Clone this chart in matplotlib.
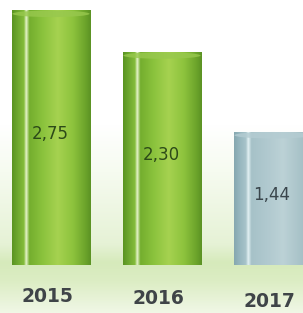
import numpy as np
import matplotlib
matplotlib.use("Agg")
import matplotlib.pyplot as plt
from matplotlib.colors import LinearSegmentedColormap
from matplotlib.patches import Ellipse

years = ["2015", "2016", "2017"]
values = [2.75, 2.30, 1.44]
value_labels = ["2,75", "2,30", "1,44"]

green_cmap = LinearSegmentedColormap.from_list("cyl_green", [
    (0.00, "#5a9422"), (0.08, "#70aa30"), (0.15, "#84bc3a"), (0.18, "#e6f4cc"),
    (0.22, "#74ae2e"), (0.40, "#8cc43e"), (0.58, "#a6d250"), (0.78, "#8cc23c"),
    (0.94, "#6aa22a"), (1.00, "#5b9224")])
grey_cmap = LinearSegmentedColormap.from_list("cyl_grey", [
    (0.00, "#86a8b0"), (0.08, "#98b8c0"), (0.15, "#a8c4ca"), (0.18, "#e2f1f3"),
    (0.22, "#a6c2c8"), (0.45, "#b2cad0"), (0.62, "#bcd2d6"), (0.85, "#a8c2c8"),
    (1.00, "#98b4bc")])
cmaps = [green_cmap, green_cmap, grey_cmap]
cap_colors = ["#98c84e", "#98c84e", "#b4ccd2"]
text_colors = ["#2c4a18", "#2c4a18", "#3a464c"]

fig = plt.figure(figsize=(3.03, 3.13), dpi=100)
ax = fig.add_axes([0, 0, 1, 1])
ax.set_xlim(-0.459, 2.27)
ax.set_ylim(-0.518, 2.859)
ax.axis("off")

# background: white fading into a pale green floor
bg = LinearSegmentedColormap.from_list("bg", [
    (0.00, "#f0f7e6"), (0.10, "#dcedc4"), (0.16, "#d6eabb"), (0.22, "#e6f2d6"),
    (0.45, "#f6fbf0"), (0.60, "#ffffff"), (1.00, "#ffffff")])
ax.imshow(np.linspace(0, 1, 256).reshape(-1, 1), cmap=bg, origin="lower",
          extent=[-0.459, 2.27, -0.518, 2.859], aspect="auto", zorder=0)

x = np.arange(len(years))
width = 0.71
bars = ax.bar(x, values, width, color="none", edgecolor="none", zorder=2)

grad = np.linspace(0, 1, 256).reshape(1, -1)
for i, b in enumerate(bars):
    x0, y0 = b.get_x(), b.get_y()
    x1, y1 = x0 + b.get_width(), y0 + b.get_height()
    im = ax.imshow(grad, cmap=cmaps[i], extent=[x0, x1, y0, y1],
                   aspect="auto", zorder=2)
    im.set_clip_path(b)
    cap = Ellipse((x[i], values[i] - 0.04), width * 0.98, 0.07,
                  facecolor=cap_colors[i], edgecolor="none", alpha=0.8, zorder=3)
    ax.add_patch(cap)
    ax.text(x[i] - 0.01, values[i] / 2 + 0.04, value_labels[i], ha="center",
            va="center", fontsize=12, color=text_colors[i], zorder=4)
    ax.text(x[i] - 0.03, -0.335 - 0.03 * i, years[i], ha="center", va="center",
            fontsize=13.5, fontweight="bold", color="#3f4448", zorder=4)

fig.savefig("out.png", dpi=100)
